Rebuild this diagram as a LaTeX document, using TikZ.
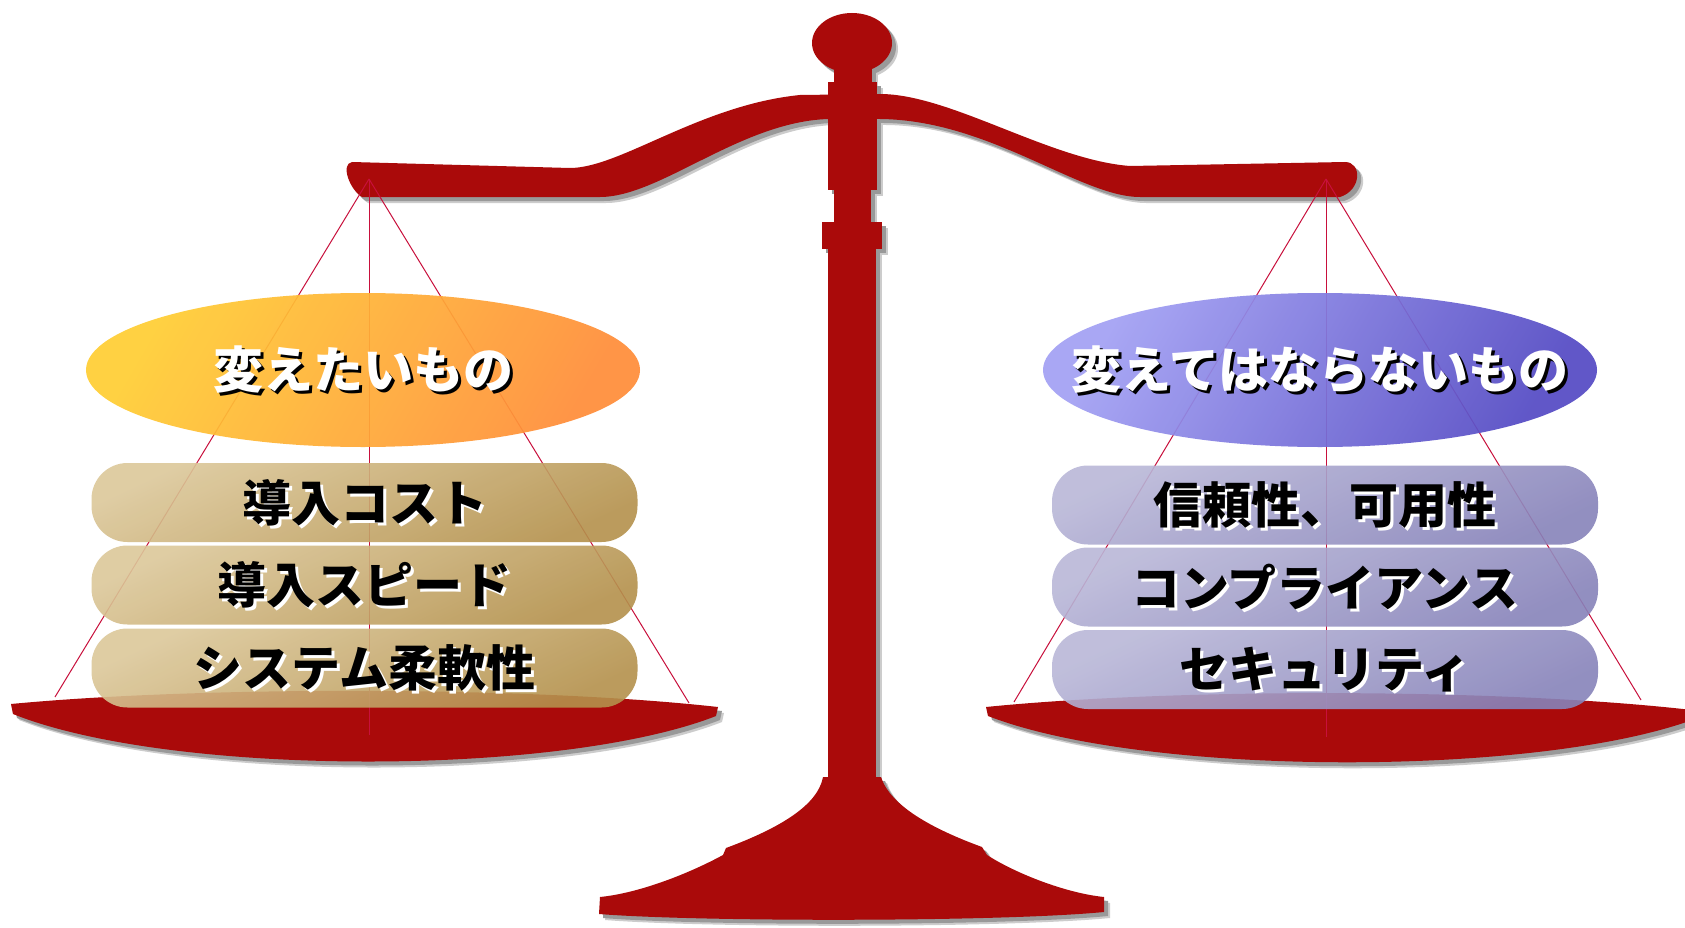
\documentclass[tikz,border=0pt]{standalone}
\usepackage{fontspec}
\newfontfamily\jpfont{Noto Sans CJK JP}
\usetikzlibrary{shapes.geometric}

\definecolor{scalered}{HTML}{AA0A0A}
\definecolor{cordred}{HTML}{C8103C}
\definecolor{warmA}{HTML}{FFCE34}
\definecolor{warmB}{HTML}{FF8E3A}
\definecolor{coolA}{HTML}{A3A1F4}
\definecolor{coolB}{HTML}{554BC4}
\definecolor{tanA}{HTML}{DCC89A}
\definecolor{tanB}{HTML}{B4914C}
\definecolor{lavA}{HTML}{BAB8D8}
\definecolor{lavB}{HTML}{8783BA}

% every filled part of the balance, drawn in the current "metal" style
\newcommand\balanceparts{%
  % beam
  \fill[metal] (352,162) -- (570,168) .. controls (620,168) and (700,105) .. (800,95)
    -- (880,94) .. controls (950,94) and (1050,160) .. (1130,166) -- (1345,162)
    .. controls (1362,162) and (1362,190) .. (1340,197) -- (1140,197)
    .. controls (1080,197) and (990,120) .. (880,119) -- (828,119)
    .. controls (740,122) and (660,197) .. (600,197) -- (362,197)
    .. controls (350,190) and (340,164) .. (352,162) -- cycle;
  % finial, neck and column
  \fill[metal] (852,43) ellipse [x radius=40, y radius=30];
  \fill[metal] (834,65) rectangle (872,85);
  \fill[metal] (828,82) rectangle (877,190);
  \fill[metal] (834,189) rectangle (871,223);
  \fill[metal] (822,222) rectangle (882,249);
  \fill[metal] (828,248) rectangle (876,780);
  % flared foot
  \fill[metal] (823,777) .. controls (818,805) and (780,828) .. (726,848) -- (723,855)
    .. controls (690,873) and (640,893) .. (600,897) -- (599,914)
    .. controls (700,922) and (1000,922) .. (1104,912) -- (1104,897)
    .. controls (1065,893) and (1015,873) .. (987,855) -- (982,847)
    .. controls (930,828) and (890,805) .. (881,777) -- cycle;
  % pans
  \fill[metal] (11,704) .. controls (200,686) and (530,686) .. (718,707) -- (716,716)
    .. controls (560,777) and (170,777) .. (13,714) -- cycle;
  \fill[metal] (986,707) .. controls (1175,688) and (1500,688) .. (1692,710) -- (1692,720)
    .. controls (1535,777) and (1145,777) .. (988,716) -- cycle;
}

\begin{document}
\begin{tikzpicture}[x=1pt, y=-1pt,
  metal/.style={fill=scalered},
  cord/.style={draw=cordred, line width=1pt},
  oval/.style={ellipse, minimum width=554pt, minimum height=154pt, inner sep=0pt,
    fill opacity=0.93},
  warmoval/.style={oval, top color=warmA, bottom color=warmB, shading angle=60},
  cooloval/.style={oval, top color=coolA, bottom color=coolB, shading angle=60},
  pill/.style={rectangle, rounded corners=36pt, minimum width=546pt, minimum height=79pt,
    inner sep=0pt, fill opacity=0.9},
  tanpill/.style={pill, top color=tanA, bottom color=tanB, shading angle=25},
  lavpill/.style={pill, top color=lavA, bottom color=lavB, shading angle=25},
  headtext/.style={font=\jpfont\bfseries\fontsize{50}{50}\selectfont, text=white, inner sep=0pt},
  headshade/.style={headtext, text=black, xshift=3pt, yshift=-3pt},
  itemtext/.style={font=\jpfont\bfseries\fontsize{49}{49}\selectfont, text=black, inner sep=0pt},
  itemshade/.style={itemtext, text=white, xshift=3pt, yshift=-3pt}]
\useasboundingbox (0,0) rectangle (1685,928);
\fill[white] (0,0) rectangle (1685,928);

% soft drop shadow
\begin{scope}[shift={(6,6)}, metal/.style={fill=gray!40}]
  \balanceparts
\end{scope}
\begin{scope}[shift={(4,4)}, metal/.style={fill=gray!80}]
  \balanceparts
\end{scope}
\balanceparts

% suspension cords
\coordinate (lapex) at (369,179);
\coordinate (lpanl) at (55,697);
\coordinate (lpanr) at (689,703);
\coordinate (lpanc) at (369,735);
\coordinate (rapex) at (1326,179);
\coordinate (rpanl) at (1014,702);
\coordinate (rpanr) at (1641,700);
\coordinate (rpanc) at (1326,737);
\draw[cord] (lapex) -- (lpanl);
\draw[cord] (lapex) -- (lpanr);
\draw[cord] (lapex) -- (lpanc);
\draw[cord] (rapex) -- (rpanl);
\draw[cord] (rapex) -- (rpanr);
\draw[cord] (rapex) -- (rpanc);

% left pan
\node[warmoval] (want) at (363,370) {};
\node[tanpill] (cost) at (364.5,502.5) {};
\node[tanpill] (speed) at (364.5,585) {};
\node[tanpill] (flex) at (364.5,668) {};

% right pan
\node[cooloval] (keep) at (1320,370) {};
\node[lavpill] (trust) at (1325,505) {};
\node[lavpill] (comply) at (1325,587) {};
\node[lavpill] (secure) at (1325,669.5) {};

% labels
\node[headshade] (wants) at (want) {変えたいもの};
\node[headtext] (wantt) at (want) {変えたいもの};
\node[headshade] (keeps) at (keep) {変えてはならないもの};
\node[headtext] (keept) at (keep) {変えてはならないもの};

\node[itemshade] (costs) at (cost) {導入コスト};
\node[itemtext] (costt) at (cost) {導入コスト};
\node[itemshade] (speeds) at (speed) {導入スピード};
\node[itemtext] (speedt) at (speed) {導入スピード};
\node[itemshade] (flexs) at (flex) {システム柔軟性};
\node[itemtext] (flext) at (flex) {システム柔軟性};

\node[itemshade] (trusts) at (trust) {信頼性、可用性};
\node[itemtext] (trustt) at (trust) {信頼性、可用性};
\node[itemshade] (complys) at (comply) {コンプライアンス};
\node[itemtext] (complyt) at (comply) {コンプライアンス};
\node[itemshade] (secures) at (secure) {セキュリティ};
\node[itemtext] (securet) at (secure) {セキュリティ};
\end{tikzpicture}
\end{document}
